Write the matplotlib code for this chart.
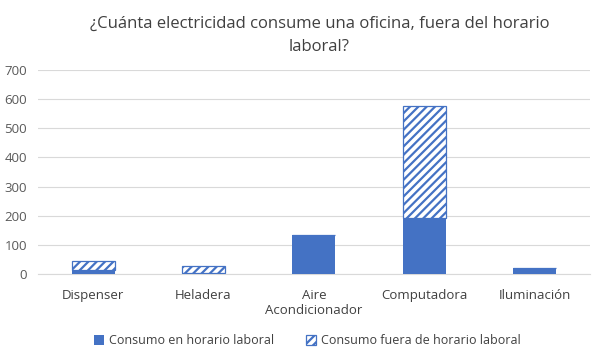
import matplotlib
matplotlib.use("Agg")
import matplotlib.pyplot as plt
import numpy as np

categories = ["Dispenser", "Heladera", "Aire\nAcondicionador", "Computadora", "Iluminación"]
laboral = [14, 5, 135, 192, 19]
fuera = [31, 21, 0, 383, 0]
yticks = [0, 100, 200, 300, 400, 500, 600, 700]

plt.rcParams['font.family'] = ['Open Sans', 'DejaVu Sans']
plt.rcParams['hatch.color'] = '#4472C4'
plt.rcParams['hatch.linewidth'] = 1.6

fig = plt.figure(figsize=(6.03, 3.62), dpi=100)
ax = fig.add_axes([0.063, 0.243, 0.915, 0.564])

x = np.arange(len(categories))
blue = '#4472C4'
w = 0.39
ax.bar(x, laboral, width=w, color=blue, label='Consumo en horario laboral', zorder=3)
ax.bar(x, fuera, width=w, bottom=laboral, color='white', edgecolor=blue,
       hatch='////', linewidth=0.9, label='Consumo fuera de horario laboral', zorder=3)

ax.set_xlim(-0.5, len(categories) - 0.5)
ax.set_ylim(0, 700)
ax.set_yticks(yticks)
ax.set_xticks(x)
ax.set_xticklabels(categories, fontsize=9.5, color='#404040')
ax.tick_params(axis='y', labelsize=9.5, colors='#595959', length=0, pad=8)
ax.tick_params(axis='x', length=0, pad=11)
ax.grid(axis='y', color='#d9d9d9', linewidth=0.8, zorder=0)
for s in ['top', 'right', 'left']:
    ax.spines[s].set_visible(False)
ax.spines['bottom'].set_color('#d9d9d9')

fig.suptitle("¿Cuánta electricidad consume una oficina, fuera del horario\nlaboral?",
             x=0.53, y=0.955, fontsize=12, color='#404040', linespacing=1.55)

fig.legend(loc='lower center', bbox_to_anchor=(0.51, 0.01), ncol=2, frameon=False,
           fontsize=9, handlelength=0.8, handleheight=0.8, columnspacing=2.5,
           handletextpad=0.4, labelcolor='#404040')

fig.savefig("out.png", dpi=100, facecolor='white')
